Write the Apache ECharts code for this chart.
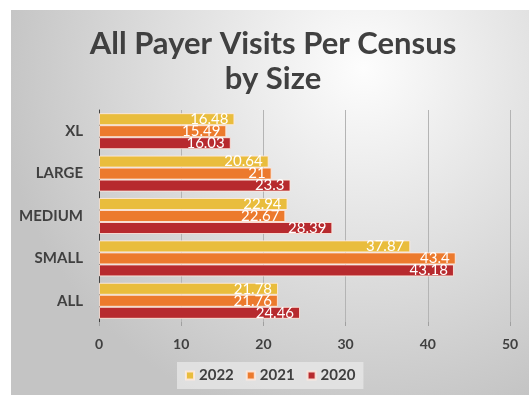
<!DOCTYPE html>
<html>
<head>
<meta charset="utf-8">
<script src="https://cdn.jsdelivr.net/npm/echarts@6/dist/echarts.min.js"></script>
<style>
  html, body { margin: 0; padding: 0; background: #ffffff; }
  #chart { width: 529px; height: 395px; }
</style>
</head>
<body>
<div id="chart"></div>
<script>
// Practice size groups, top to bottom
const categories = ['XL', 'LARGE', 'MEDIUM', 'SMALL', 'ALL'];
// Visits per census by year
const visits2022 = [16.48, 20.64, 22.94, 37.87, 21.78];
const visits2021 = [15.49, 21, 22.67, 43.4, 21.76];
const visits2020 = [16.03, 23.3, 28.39, 43.18, 24.46];
const xTicks = [0, 10, 20, 30, 40, 50];

const FONT = 'Lato, "Open Sans", sans-serif';
const colors = { '2022': '#E9BD3D', '2021': '#EC7A2D', '2020': '#B72A2E' };

const chart = echarts.init(document.getElementById('chart'), null, { renderer: 'canvas' });

function barSeries(name, data) {
  return {
    name: name,
    type: 'bar',
    data: data,
    barGap: '0%',
    barCategoryGap: '15%',
    itemStyle: { color: colors[name], borderColor: 'rgba(255,235,225,0.85)', borderWidth: 1 },
    label: {
      show: true,
      position: 'insideRight',
      distance: 6,
      color: '#ffffff',
      fontFamily: FONT,
      fontSize: 15,
      fontWeight: 'normal'
    },
    emphasis: { disabled: true }
  };
}

chart.setOption({
  animation: false,
  graphic: [{
    type: 'rect',
    z: -10,
    shape: { x: 11, y: 10, width: 518, height: 385 },
    style: {
      fill: new echarts.graphic.RadialGradient(0.68, 0.15, 0.95, [
        { offset: 0, color: '#fdfdfd' },
        { offset: 1, color: '#c4c4c4' }
      ])
    }
  }],
  title: {
    text: 'All Payer Visits Per Census\nby Size',
    left: 268,
    textAlign: 'center',
    top: 21,
    textStyle: {
      fontFamily: FONT,
      fontSize: 31,
      fontWeight: 'bold',
      color: '#404040',
      lineHeight: 35
    }
  },
  legend: {
    bottom: 6,
    left: 177,
    data: ['2022', '2021', '2020'],
    itemWidth: 8,
    itemHeight: 8,
    itemGap: 12,
    icon: 'rect',
    backgroundColor: 'rgba(232,232,232,0.75)',
    padding: [6, 8],
    textStyle: { fontFamily: FONT, fontSize: 15, fontWeight: 'bold', color: '#404040' }
  },
  grid: { left: 99, right: 19, top: 110, bottom: 73, containLabel: false },
  xAxis: {
    type: 'value',
    min: xTicks[0],
    max: xTicks[xTicks.length - 1],
    interval: 10,
    axisLine: { show: false },
    axisTick: { show: true, length: 4, lineStyle: { color: '#a0a0a0' } },
    splitLine: { show: true, lineStyle: { color: '#b4b4b4', width: 1 } },
    axisLabel: { margin: 15, fontFamily: FONT, fontSize: 14, fontWeight: 'bold', color: '#404040' }
  },
  yAxis: {
    type: 'category',
    inverse: true,
    data: categories,
    axisLine: { show: true, lineStyle: { color: '#404040', width: 1 } },
    axisTick: { show: false },
    axisLabel: { margin: 16, fontFamily: FONT, fontSize: 15, fontWeight: 'bold', color: '#404040' }
  },
  series: [
    barSeries('2022', visits2022),
    barSeries('2021', visits2021),
    barSeries('2020', visits2020)
  ]
});
</script>
</body>
</html>
